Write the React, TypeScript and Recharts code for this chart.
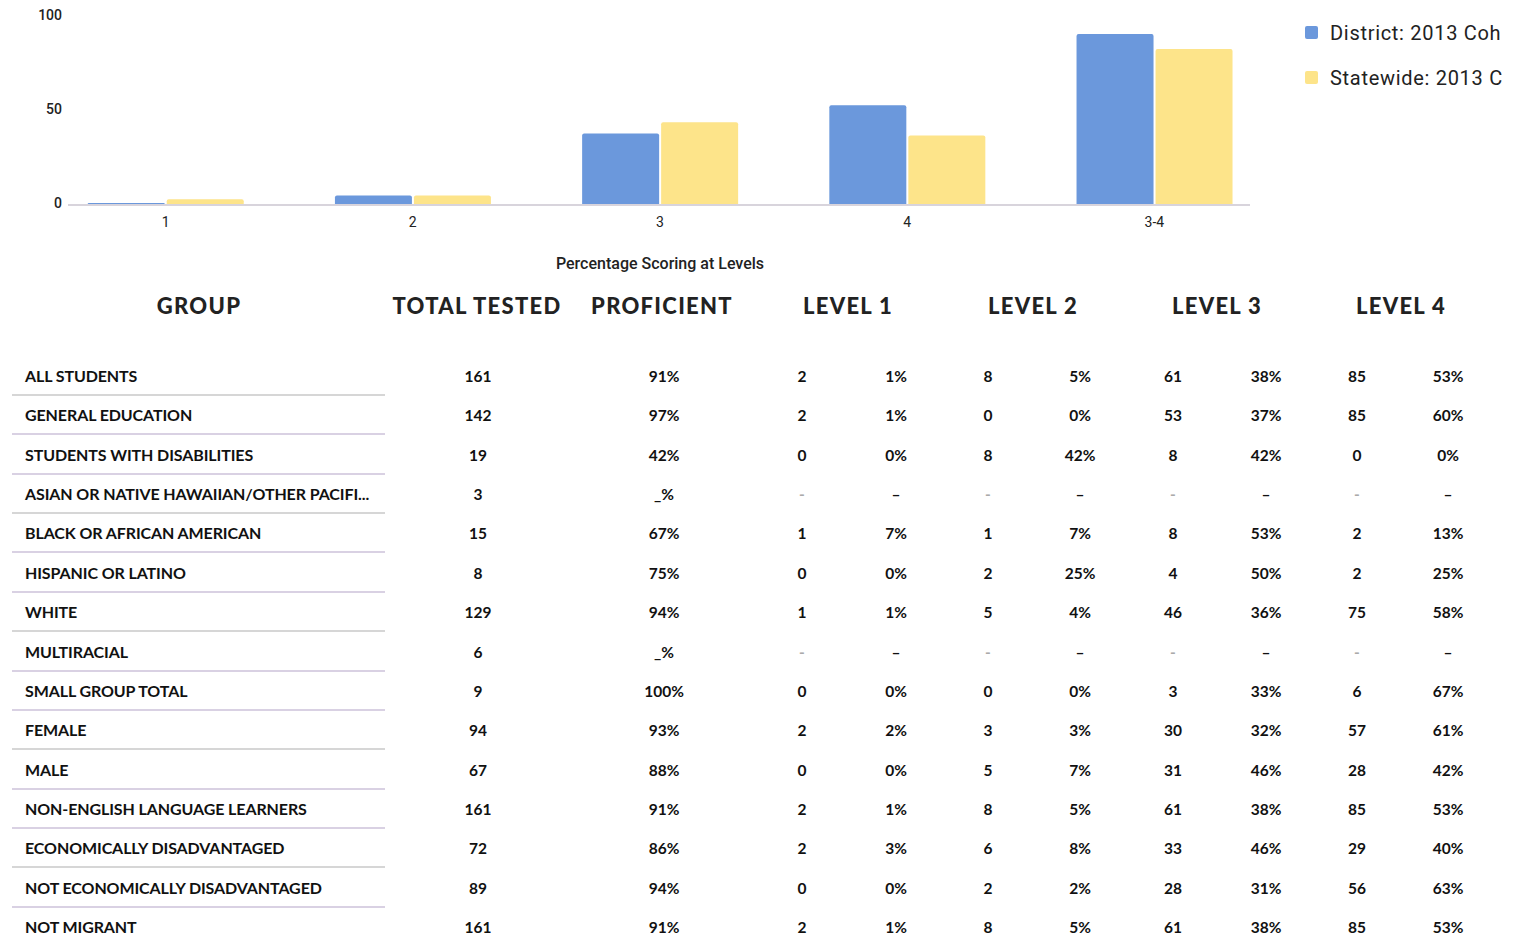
import React from 'react';
import { BarChart, Bar, XAxis, YAxis, ReferenceLine, Legend } from 'recharts';

const levels = ['1', '2', '3', '4', '3-4'];
const districtPct = [1, 5, 38, 53, 91];
const statewidePct = [3, 5, 44, 37, 83];
const seriesNames = ['District: 2013 Coh', 'Statewide: 2013 C'];
const seriesColors = ['#6b98dc', '#fde48a'];
const yTicks = [0, 50, 100];
const xAxisTitle = 'Percentage Scoring at Levels';

const headers = ['GROUP', 'TOTAL TESTED', 'PROFICIENT', 'LEVEL 1', 'LEVEL 2', 'LEVEL 3', 'LEVEL 4'];
const groups = [
  'ALL STUDENTS',
  'GENERAL EDUCATION',
  'STUDENTS WITH DISABILITIES',
  'ASIAN OR NATIVE HAWAIIAN/OTHER PACIFI...',
  'BLACK OR AFRICAN AMERICAN',
  'HISPANIC OR LATINO',
  'WHITE',
  'MULTIRACIAL',
  'SMALL GROUP TOTAL',
  'FEMALE',
  'MALE',
  'NON-ENGLISH LANGUAGE LEARNERS',
  'ECONOMICALLY DISADVANTAGED',
  'NOT ECONOMICALLY DISADVANTAGED',
  'NOT MIGRANT',
];
const totalTested = ['161', '142', '19', '3', '15', '8', '129', '6', '9', '94', '67', '161', '72', '89', '161'];
const proficient = ['91%', '97%', '42%', '_%', '67%', '75%', '94%', '_%', '100%', '93%', '88%', '91%', '86%', '94%', '91%'];
const level1Count = ['2', '2', '0', '-', '1', '0', '1', '-', '0', '2', '0', '2', '2', '0', '2'];
const level1Pct = ['1%', '1%', '0%', '–', '7%', '0%', '1%', '–', '0%', '2%', '0%', '1%', '3%', '0%', '1%'];
const level2Count = ['8', '0', '8', '-', '1', '2', '5', '-', '0', '3', '5', '8', '6', '2', '8'];
const level2Pct = ['5%', '0%', '42%', '–', '7%', '25%', '4%', '–', '0%', '3%', '7%', '5%', '8%', '2%', '5%'];
const level3Count = ['61', '53', '8', '-', '8', '4', '46', '-', '3', '30', '31', '61', '33', '28', '61'];
const level3Pct = ['38%', '37%', '42%', '–', '53%', '50%', '36%', '–', '33%', '32%', '46%', '38%', '46%', '31%', '38%'];
const level4Count = ['85', '85', '0', '-', '2', '2', '75', '-', '6', '57', '28', '85', '29', '56', '85'];
const level4Pct = ['53%', '60%', '0%', '–', '13%', '25%', '58%', '–', '67%', '61%', '42%', '53%', '40%', '63%', '53%'];

const chartData = levels.map((level, i) => ({
  level,
  district: districtPct[i],
  statewide: statewidePct[i],
}));

const headerCenters = [199, 477, 662, 848, 1033, 1217, 1401];
const dataColumns = [
  { values: totalTested, center: 478 },
  { values: proficient, center: 664 },
  { values: level1Count, center: 802 },
  { values: level1Pct, center: 896 },
  { values: level2Count, center: 988 },
  { values: level2Pct, center: 1080 },
  { values: level3Count, center: 1173 },
  { values: level3Pct, center: 1266 },
  { values: level4Count, center: 1357 },
  { values: level4Pct, center: 1448 },
];

const FIRST_ROW = 376;
const ROW_STEP = 39.36;

const YTick = (props: any) => {
  const { y, payload } = props;
  return (
    <text x={62} y={y} dy={3} textAnchor="end" fontFamily="Roboto" fontSize={14} fontWeight={500} fill="#222">
      {payload.value}
    </text>
  );
};

const BaseLine = (props: any) => {
  const { x1, x2, y1, y2 } = props;
  return <line x1={x1 + 26} x2={x2 - 28} y1={y1} y2={y2} stroke="#d8d4dc" strokeWidth={2} />;
};

const LegendContent = (props: any) => {
  const { payload } = props;
  return (
    <div style={{ fontFamily: 'Roboto', fontSize: 20, letterSpacing: 0.7, color: '#222' }}>
      {(payload || []).map((entry: any, i: number) => (
        <div key={i} style={{ display: 'flex', alignItems: 'center', height: 45, whiteSpace: 'nowrap' }}>
          <span
            style={{
              display: 'inline-block',
              width: 13,
              height: 13,
              borderRadius: 2,
              background: entry.color,
              marginRight: 12,
              flex: 'none',
            }}
          />
          <span>{entry.value}</span>
        </div>
      ))}
    </div>
  );
};

export default function App() {
  return (
    <div style={{ position: 'absolute', left: 0, top: 0, width: 1513, height: 945, background: '#fff', overflow: 'hidden' }}>
      <div style={{ position: 'absolute', left: 0, top: 0 }}>
        <BarChart
          width={1513}
          height={290}
          data={chartData}
          margin={{ top: 17, right: 235, bottom: 5, left: 0 }}
          barCategoryGap="18.5%"
          barGap={2}
        >
          <YAxis
            domain={[0, 100]}
            ticks={yTicks}
            width={42}
            axisLine={false}
            tickLine={false}
            tick={<YTick />}
            interval={0}
          />
          <XAxis
            dataKey="level"
            height={80}
            axisLine={false}
            tickLine={false}
            tickMargin={6}
            tick={{ fontFamily: 'Roboto', fontSize: 14, fill: '#222' }}
            label={{
              value: xAxisTitle,
              position: 'insideBottom',
              offset: 16,
              style: { fontFamily: 'Roboto', fontSize: 16, fill: '#222', fontWeight: 500 },
            }}
          />
          <ReferenceLine y={0} shape={<BaseLine />} />
          <Legend
            layout="vertical"
            align="center"
            verticalAlign="middle"
            content={<LegendContent />}
            wrapperStyle={{ position: 'absolute', left: 1305, top: 10, width: 205, height: 90 }}
          />
          <Bar dataKey="district" name={seriesNames[0]} fill={seriesColors[0]} radius={[2, 2, 0, 0]} isAnimationActive={false} />
          <Bar dataKey="statewide" name={seriesNames[1]} fill={seriesColors[1]} radius={[2, 2, 0, 0]} isAnimationActive={false} />
        </BarChart>
      </div>

      {headers.map((h, i) => (
        <div
          key={h}
          style={{
            position: 'absolute',
            left: headerCenters[i] - 120,
            width: 240,
            top: 292,
            lineHeight: '28px',
            textAlign: 'center',
            fontFamily: 'Lato',
            fontWeight: 900,
            fontSize: 22,
            letterSpacing: 1.3,
            color: '#222',
          }}
        >
          {h}
        </div>
      ))}

      {groups.map((g, r) => {
        const cy = FIRST_ROW + r * ROW_STEP;
        return (
          <React.Fragment key={g + r}>
            <div
              style={{
                position: 'absolute',
                left: 25,
                top: cy - 11,
                lineHeight: '22px',
                fontFamily: 'Lato',
                fontWeight: 700,
                fontSize: 16,
                letterSpacing: -0.1,
                color: '#111',
                whiteSpace: 'nowrap',
              }}
            >
              {g}
            </div>
            <div
              style={{
                position: 'absolute',
                left: 12,
                width: 373,
                top: cy + 18,
                height: 2,
                background: r % 3 === 0 ? '#d6d6d6' : '#d9d1e3',
              }}
            />
            {dataColumns.map((col, c) => {
              const v = col.values[r];
              const faint = v === '-';
              return (
                <div
                  key={c}
                  style={{
                    position: 'absolute',
                    left: col.center - 50,
                    width: 100,
                    top: cy - 11,
                    lineHeight: '22px',
                    textAlign: 'center',
                    fontFamily: 'Lato',
                    fontWeight: 700,
                    fontSize: 15.5,
                    color: faint ? '#aaa' : '#111',
                  }}
                >
                  {v}
                </div>
              );
            })}
          </React.Fragment>
        );
      })}
    </div>
  );
}
